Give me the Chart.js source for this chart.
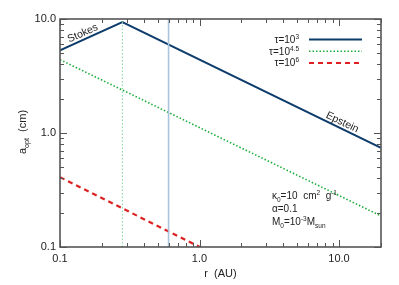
<!DOCTYPE html>
<html>
<head>
<meta charset="utf-8">
<script src="https://cdn.jsdelivr.net/npm/chart.js@4"></script>
<style>
  html, body { margin: 0; padding: 0; background: #fff; }
  #wrap { width: 399px; height: 285px; }
</style>
</head>
<body>
<div id="wrap"><canvas id="grafico"></canvas></div>
<script>
// datos
const rTau3 = [0.1, 0.28, 20];
const aTau3 = [5.3, 9.4, 0.74];
const rTau45 = [0.1, 20];
const aTau45 = [4.4, 0.187];
const rTau6 = [0.1, 20];
const aTau6 = [0.41, 0.016];
const lineasVerticales = [0.28, 0.6];
const xTicks = [0.1, 1.0, 10.0];
const yTicks = [0.1, 1.0, 10.0];
const leyenda = [
    {base: "τ=10", sup: "3", color: "#0d3c6b", dash: [], width: 2},
    {base: "τ=10", sup: "4.5", color: "#1fae3c", dash: [1.5, 2], width: 1.5},
    {base: "τ=10", sup: "6", color: "#dd2020", dash: [5, 4], width: 2}
];

function puntos(xs, ys){
    return xs.map((x, i) => ({x: x, y: ys[i]}));
}

const FONT = "'Liberation Sans', Arial, sans-serif";

// dibuja texto con segmentos normales / sub / sup
function texto(ctx, partes, x, y, size, align){
    let total = 0;
    partes.forEach(p => {
        let s = p.t ? size : size * 0.65;
        ctx.font = s + "px " + FONT;
        p.w = ctx.measureText(p.v).width;
        total += p.w;
    });
    let cx = align === "right" ? x - total : (align === "center" ? x - total / 2 : x);
    ctx.textBaseline = "alphabetic";
    ctx.textAlign = "left";
    partes.forEach(p => {
        let s = p.t ? size : size * 0.65;
        ctx.font = s + "px " + FONT;
        let dy = p.t ? 0 : (p.sup ? -size * 0.42 : size * 0.28);
        ctx.fillText(p.v, cx, y + dy);
        cx += p.w;
    });
}
function N(v){ return {v: v, t: 1}; }
function SUP(v){ return {v: v, t: 0, sup: true}; }
function SUB(v){ return {v: v, t: 0, sup: false}; }

const ejes = {
    id: "ejes",
    afterDraw(chart){
        const ctx = chart.ctx;
        const a = chart.chartArea;
        const xs = chart.scales.x, ys = chart.scales.y;
        ctx.save();
        ctx.strokeStyle = "#555";
        ctx.lineWidth = 1.6;
        ctx.strokeRect(a.left, a.top, a.right - a.left, a.bottom - a.top);

        // ticks
        ctx.lineWidth = 1;
        ctx.beginPath();
        for (let d = 0.1; d < 100; d *= 10){
            for (let k = 1; k <= 9; k++){
                let v = d * k;
                let major = k === 1;
                if (v >= 0.1 && v <= 20.0001){
                    let px = Math.round(xs.getPixelForValue(v)) + 0.5;
                    let L = major ? 7 : 4;
                    ctx.moveTo(px, a.bottom); ctx.lineTo(px, a.bottom - L);
                    ctx.moveTo(px, a.top); ctx.lineTo(px, a.top + L);
                }
                if (v >= 0.1 && v <= 10.0001){
                    let py = Math.round(ys.getPixelForValue(v)) + 0.5;
                    let L = major ? 7 : 4;
                    ctx.moveTo(a.left, py); ctx.lineTo(a.left + L, py);
                    ctx.moveTo(a.right, py); ctx.lineTo(a.right - L, py);
                }
            }
        }
        ctx.stroke();

        ctx.fillStyle = "#222";
        ctx.font = "11px " + FONT;
        ctx.textAlign = "center";
        ctx.textBaseline = "top";
        xTicks.forEach(v => ctx.fillText(v.toFixed(1), xs.getPixelForValue(v), a.bottom + 6));
        ctx.textAlign = "right";
        ctx.textBaseline = "middle";
        yTicks.forEach(v => ctx.fillText(v.toFixed(1), a.left - 4, ys.getPixelForValue(v)));

        // titulos
        texto(ctx, [N("r  (AU)")], (a.left + a.right) / 2, a.bottom + 30, 11, "center");
        ctx.save();
        ctx.translate(26, 132);
        ctx.rotate(-Math.PI / 2);
        texto(ctx, [N("a"), SUB("opt"), N("  (cm)")], 0, 0, 11, "center");
        ctx.restore();

        // etiquetas en las curvas
        ctx.save();
        ctx.translate(84, 36);
        ctx.rotate(-24 * Math.PI / 180);
        texto(ctx, [N("Stokes")], 0, 0, 10.5, "center");
        ctx.restore();
        ctx.save();
        ctx.translate(341, 125);
        ctx.rotate(26 * Math.PI / 180);
        texto(ctx, [N("Epstein")], 0, 0, 10.5, "center");
        ctx.restore();

        // leyenda
        leyenda.forEach((l, i) => {
            let y = 43 + i * 11.7;
            ctx.fillStyle = "#222";
            texto(ctx, [N(l.base), SUP(l.sup)], 299, y, 10, "right");
            ctx.strokeStyle = l.color;
            ctx.lineWidth = l.width;
            ctx.setLineDash(l.dash);
            ctx.beginPath();
            ctx.moveTo(309, y - 3.5);
            ctx.lineTo(362, y - 3.5);
            ctx.stroke();
        });
        ctx.setLineDash([]);

        // parametros
        ctx.fillStyle = "#222";
        texto(ctx, [N("κ"), SUB("0"), N("=10  cm"), SUP("2"), N("  g"), SUP("-1")], 272, 199, 10, "left");
        texto(ctx, [N("α=0.1")], 272, 212, 10, "left");
        texto(ctx, [N("M"), SUB("0"), N("=10"), SUP("-3"), N("M"), SUB("sun")], 272, 225, 10, "left");
        ctx.restore();
    }
};

new Chart(document.getElementById("grafico"), {
    type: "line",
    data: {
        datasets: [
            {
                data: [{x: lineasVerticales[0], y: 0.1}, {x: lineasVerticales[0], y: 10}],
                borderColor: "#7fd89a", borderWidth: 1, borderDash: [1.5, 2]
            },
            {
                data: [{x: lineasVerticales[1], y: 0.1}, {x: lineasVerticales[1], y: 10}],
                borderColor: "#aac4dc", borderWidth: 1.6
            },
            {
                data: puntos(rTau3, aTau3),
                borderColor: "#0d3c6b", borderWidth: 2
            },
            {
                data: puntos(rTau45, aTau45),
                borderColor: "#1fae3c", borderWidth: 1.6, borderDash: [1.5, 2]
            },
            {
                data: puntos(rTau6, aTau6),
                borderColor: "#dd2020", borderWidth: 2.2, borderDash: [5, 4]
            }
        ]
    },
    options: {
        responsive: true,
        maintainAspectRatio: false,
        animation: false,
        layout: {padding: {left: 60, top: 19, right: 18, bottom: 38}},
        elements: {point: {radius: 0}, line: {tension: 0}},
        datasets: {line: {clip: 0}},
        plugins: {legend: {display: false}, tooltip: {enabled: false}},
        scales: {
            x: {type: "logarithmic", min: 0.1, max: 20, display: false},
            y: {type: "logarithmic", min: 0.1, max: 10, display: false}
        }
    },
    plugins: [ejes]
});
</script>
</body>
</html>
